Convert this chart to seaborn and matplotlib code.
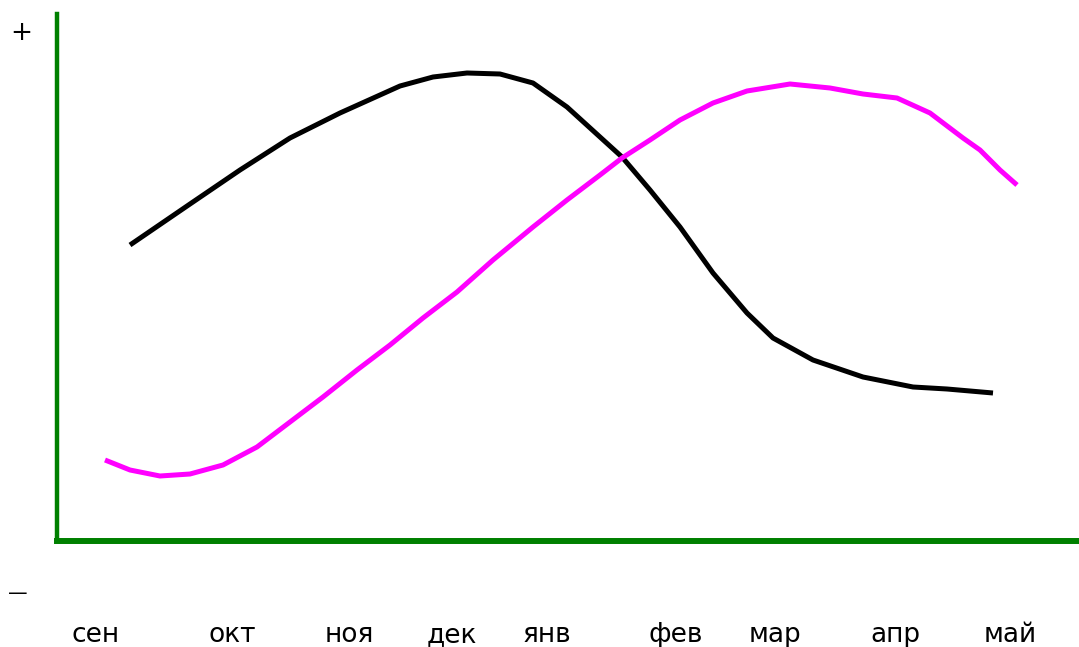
import numpy as np
import pandas as pd
import matplotlib
matplotlib.use("Agg")
import matplotlib.pyplot as plt
import seaborn as sns

# Month labels and where they sit along the time axis
months = ["сен", "окт", "ноя", "дек", "янв", "фев", "мар", "апр", "май"]
month_pos = [39, 175, 292, 395, 490, 619, 718, 838, 953]

# Black curve
black_x = [73, 133, 183, 233, 283, 343, 376, 410, 443, 476, 510, 543, 565, 593,
           623, 656, 690, 716, 756, 806, 856, 890, 936]
black_y = [296, 337, 371, 403, 428, 455, 464, 468, 467, 458, 434, 404, 384, 351,
           314, 268, 228, 203, 181, 164, 154, 152, 148]

# Magenta curve
mag_x = [48, 73, 103, 133, 166, 200, 233, 266, 300, 333, 366, 400, 436, 476,
         510, 543, 565, 593, 623, 656, 690, 733, 773, 806, 840, 873, 906, 923,
         943, 960]
mag_y = [81, 71, 65, 67, 76, 94, 119, 144, 171, 196, 223, 249, 281, 314,
         341, 366, 383, 401, 421, 438, 450, 457, 453, 447, 443, 428, 403, 391,
         371, 356]

df = pd.concat([
    pd.DataFrame({"x": black_x, "y": black_y, "curve": "black"}),
    pd.DataFrame({"x": mag_x, "y": mag_y, "curve": "magenta"}),
])

sns.set_style("white")
fig = plt.figure(figsize=(10.79, 6.47), dpi=100)
W, H = 1079, 647
ax = fig.add_axes([57 / W, (H - 541) / H, (W - 57) / W, (541 - 14) / H])

sns.lineplot(data=df, x="x", y="y", hue="curve",
             palette={"black": "black", "magenta": "#ff00ff"},
             estimator=None, sort=False, linewidth=3.6, legend=False, ax=ax)
for line in ax.get_lines():
    line.set_solid_joinstyle("round")
    line.set_solid_capstyle("butt")

ax.set_xlim(0, W - 57)
ax.set_ylim(0, 527)
ax.set_xlabel("")
ax.set_ylabel("")

for side in ["top", "right"]:
    ax.spines[side].set_visible(False)
ax.spines["left"].set_color("green")
ax.spines["left"].set_linewidth(3.2)
ax.spines["bottom"].set_color("green")
ax.spines["bottom"].set_linewidth(4.3)

ax.set_yticks([])
ax.set_xticks(month_pos)
ax.set_xticklabels(months, fontsize=19, family="DejaVu Sans", color="black")
ax.tick_params(axis="x", length=0, pad=58)

fig.text(21 / W, 1 - 33 / H, "+", fontsize=19, ha="center", va="center", color="black")
fig.text(18 / W, 1 - 593 / H, "—", fontsize=14, ha="center", va="center", color="black")

fig.savefig("out.png", dpi=100)
